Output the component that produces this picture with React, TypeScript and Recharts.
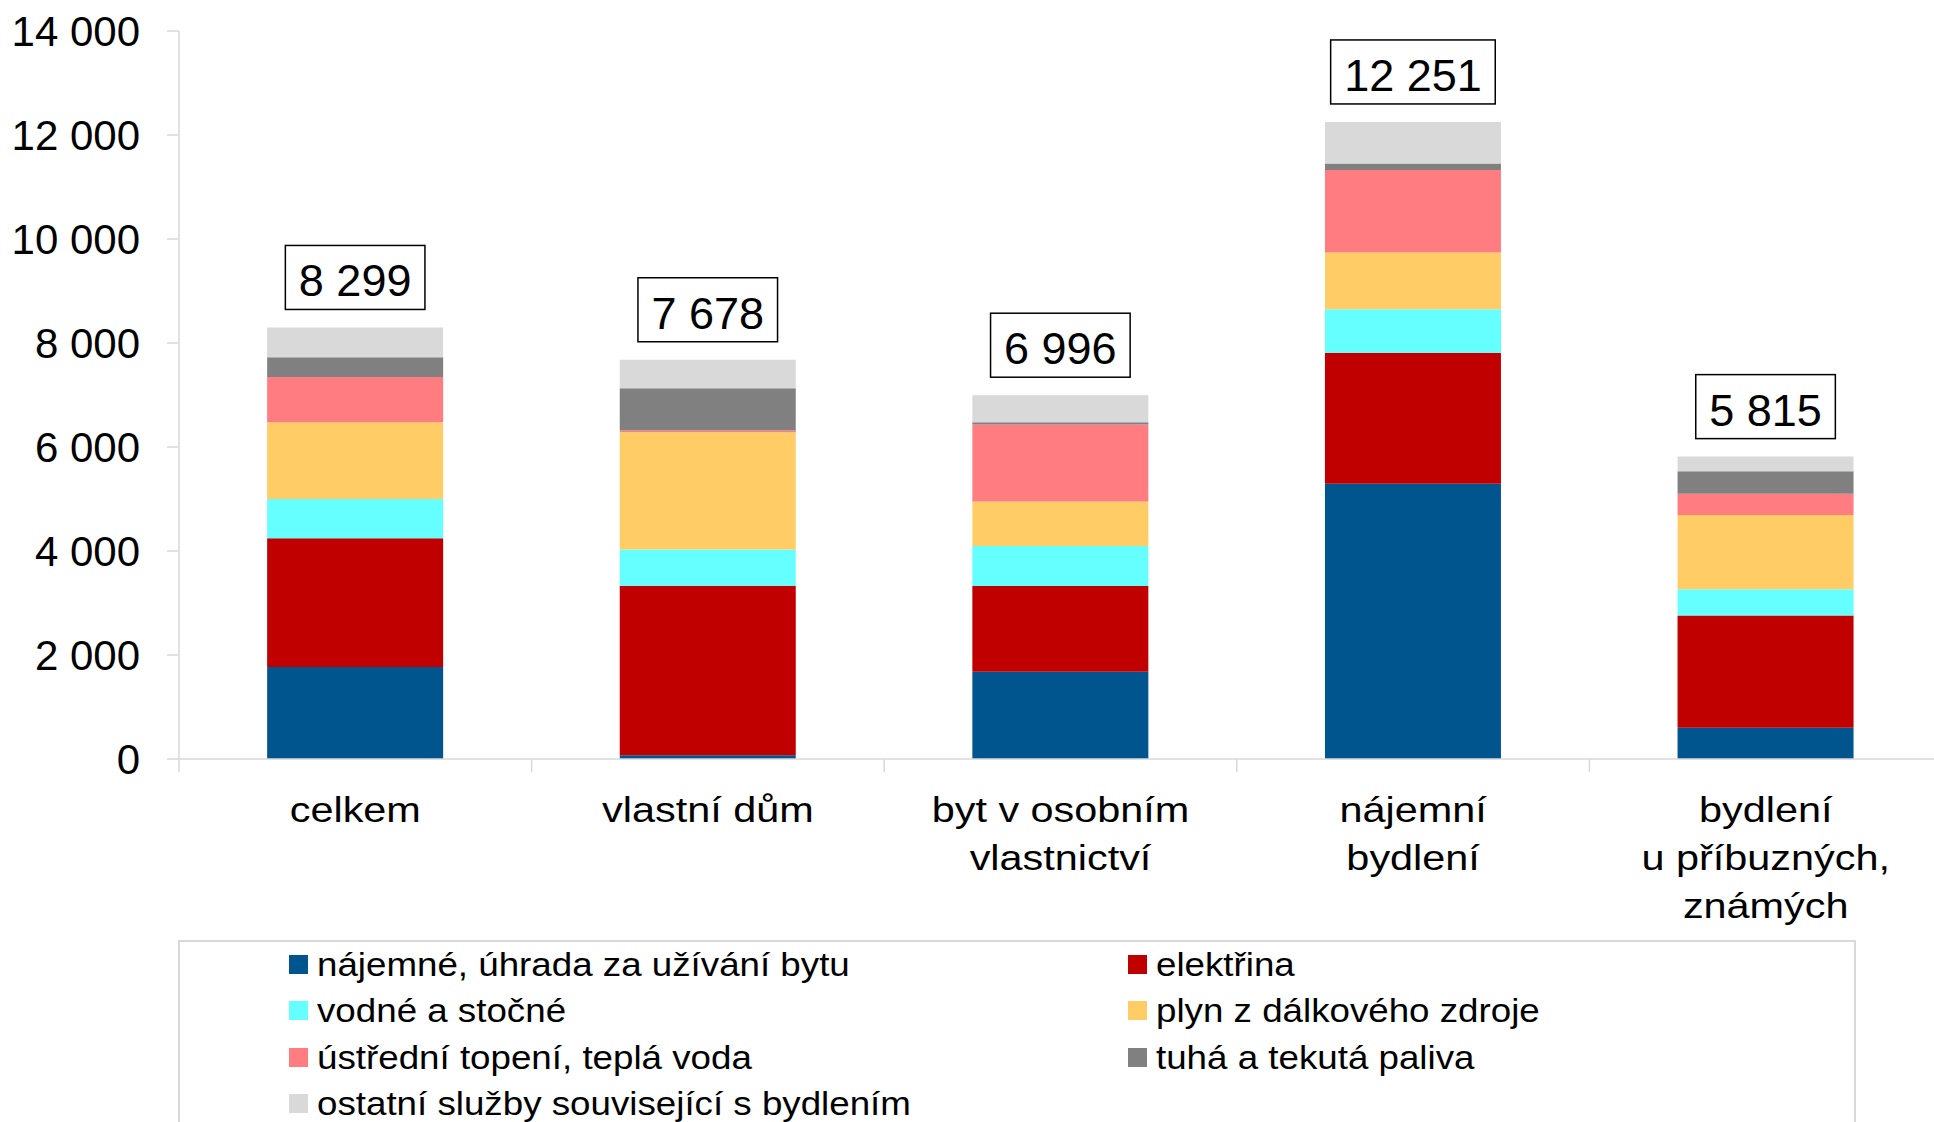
import { BarChart, Bar, XAxis, YAxis, LabelList } from 'recharts'

const CATEGORIES = [
    'celkem',
    'vlastní dům',
    'byt v osobním\nvlastnictví',
    'nájemní\nbydlení',
    'bydlení\nu příbuzných,\nznámých',
]

const RENT = [1771, 70, 1680, 5295, 603]
const ELECTRICITY = [2472, 3264, 1648, 2518, 2155]
const WATER = [756, 697, 768, 834, 507]
const GAS = [1475, 2254, 855, 1091, 1426]
const HEATING = [870, 33, 1484, 1590, 412]
const FUELS = [383, 814, 40, 124, 431]
const OTHER = [572, 546, 521, 799, 281]
const TOTALS = [8299, 7678, 6996, 12251, 5815]

const Y_TICKS = [0, 2000, 4000, 6000, 8000, 10000, 12000, 14000]

const SERIES_KEYS = ['rent', 'electricity', 'water', 'gas', 'heating', 'fuels', 'other']
const SERIES_LABELS = [
    'nájemné, úhrada za užívání bytu',
    'elektřina',
    'vodné a stočné',
    'plyn z dálkového zdroje',
    'ústřední topení, teplá voda',
    'tuhá a tekutá paliva',
    'ostatní služby související s bydlením',
]
const SERIES_VALUES = [RENT, ELECTRICITY, WATER, GAS, HEATING, FUELS, OTHER]

const COLORS: Record<string, string> = {
    rent: '#00558f',
    electricity: '#c00000',
    water: '#66ffff',
    gas: '#ffcc66',
    heating: '#ff7c80',
    fuels: '#808080',
    other: '#d9d9d9',
}

const FONT = '"Liberation Sans", Arial, sans-serif'
const AXIS_GREY = '#d9d9d9'

const data = CATEGORIES.map((name, i) => {
    const row: Record<string, string | number> = { name, total: TOTALS[i] }
    SERIES_KEYS.forEach((key, s) => {
        row[key] = SERIES_VALUES[s][i]
    })
    return row
})

function formatNumber(v: number) {
    return String(v).replace(/\B(?=(\d{3})+(?!\d))/g, ' ')
}

// rough Arial widths, only digits and spaces show up in the labels
function textWidth(text: string, size: number) {
    let w = 0
    for (const ch of text) w += ch === ' ' ? 0.278 : 0.556
    return w * size
}

// category label plus the small tick marks between categories (Excel style)
function CategoryTick(props: any) {
    const { x, y, payload, index } = props
    const half = Number(payload?.offset) || 0
    const lines = String(payload.value).split('\n')
    const last = index === CATEGORIES.length - 1
    return (
        <g transform={`translate(${x},${y})`}>
            {half > 0 && <line x1={-half} x2={-half} y1={0} y2={13} stroke={AXIS_GREY} strokeWidth={1.5} />}
            {half > 0 && last && <line x1={half} x2={half} y1={0} y2={13} stroke={AXIS_GREY} strokeWidth={1.5} />}
            {lines.map((line, i) => (
                <text
                    key={i}
                    transform={`translate(0,${63 + i * 48}) scale(1.15,1)`}
                    textAnchor="middle"
                    fontSize={36}
                    fontFamily={FONT}
                    fill="#000"
                >
                    {line}
                </text>
            ))}
        </g>
    )
}

function TotalLabel(props: any) {
    const { x, y, width, index } = props
    const value = props.value ?? TOTALS[index]
    const text = formatNumber(Number(value))
    const boxW = textWidth(text, 45) + 27
    const boxH = 64
    const cx = Number(x) + Number(width) / 2
    const bottom = Number(y) - 18
    return (
        <g>
            <rect x={cx - boxW / 2} y={bottom - boxH} width={boxW} height={boxH} fill="#fff" stroke="#000" strokeWidth={1.5} />
            <text x={cx} y={bottom - 13} textAnchor="middle" fontSize={45} fontFamily={FONT} fill="#000">
                {text}
            </text>
        </g>
    )
}

function LegendBox() {
    return (
        <>
            <div
                style={{
                    position: 'absolute',
                    left: 178,
                    top: 940,
                    width: 1678,
                    height: 300,
                    border: `2px solid ${AXIS_GREY}`,
                    boxSizing: 'border-box',
                }}
            />
            {SERIES_KEYS.map((key, i) => {
                const col = i % 2
                const row = Math.floor(i / 2)
                return (
                    <div
                        key={key}
                        style={{
                            position: 'absolute',
                            left: 289 + col * 839,
                            top: 964 + row * 46.6 - 23,
                            height: 46,
                            display: 'flex',
                            alignItems: 'center',
                            whiteSpace: 'nowrap',
                        }}
                    >
                        <span style={{ display: 'inline-block', width: 19, height: 19, background: COLORS[key] }} />
                        <span
                            style={{
                                marginLeft: 9,
                                fontFamily: FONT,
                                fontSize: 34,
                                color: '#000',
                                transform: 'scaleX(1.08)',
                                transformOrigin: 'left center',
                            }}
                        >
                            {SERIES_LABELS[i]}
                        </span>
                    </div>
                )
            })}
        </>
    )
}

export default function App() {
    return (
        <div
            style={{
                position: 'absolute',
                left: 0,
                top: 0,
                width: 1934,
                height: 1122,
                overflow: 'hidden',
                background: '#fff',
            }}
        >
            <BarChart
                width={1960}
                height={1122}
                data={data}
                margin={{ top: 31, right: 18, bottom: 263, left: 9 }}
                barCategoryGap="25%"
            >
                <XAxis
                    dataKey="name"
                    height={100}
                    interval={0}
                    tickLine={false}
                    tickSize={0}
                    tickMargin={0}
                    axisLine={{ stroke: AXIS_GREY, strokeWidth: 1.5 }}
                    tick={<CategoryTick />}
                />
                <YAxis
                    width={170}
                    domain={[0, 14000]}
                    ticks={Y_TICKS}
                    interval={0}
                    tickFormatter={formatNumber}
                    tickSize={12}
                    tickMargin={27}
                    axisLine={{ stroke: AXIS_GREY, strokeWidth: 1.5 }}
                    tickLine={{ stroke: AXIS_GREY, strokeWidth: 1.5 }}
                    tick={{ fill: '#000', fontSize: 42, fontFamily: FONT }}
                />
                {SERIES_KEYS.map((key, i) => (
                    <Bar
                        key={key}
                        dataKey={key}
                        name={SERIES_LABELS[i]}
                        stackId="a"
                        fill={COLORS[key]}
                        isAnimationActive={false}
                    >
                        {i === SERIES_KEYS.length - 1 && <LabelList dataKey="total" content={<TotalLabel />} />}
                    </Bar>
                ))}
            </BarChart>
            <LegendBox />
        </div>
    )
}
